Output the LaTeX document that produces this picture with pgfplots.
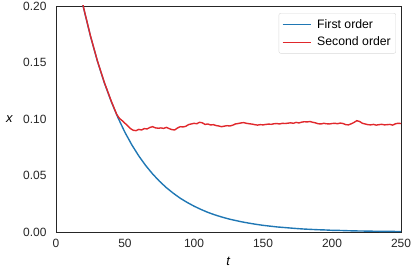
\documentclass[border=0pt]{standalone}
\usepackage{pgfplots}
\pgfplotsset{compat=1.18}
\usepackage{fontspec}
\setmainfont{Liberation Sans}
\definecolor{fblue}{HTML}{1F77B4}
\definecolor{fred}{HTML}{E0282C}
\definecolor{spine}{gray}{0.15}
\begin{document}
\begin{tikzpicture}
\begin{axis}[
  name=ax,
  scale only axis, width=345bp, height=226bp,
  xmin=0, xmax=250, ymin=0, ymax=0.2,
  xtick={0,50,100,150,200,250},
  ytick={0,0.05,0.1,0.15,0.2},
  yticklabel style={xshift=-6bp, /pgf/number format/fixed, /pgf/number format/fixed zerofill, /pgf/number format/precision=2},
  /pgf/number format/assume math mode=true,
  major tick length=0pt,
  axis line style={spine, line width=0.9pt},
  tick label style={font=\fontsize{12}{14}\selectfont, text=black!85},
  xticklabel style={yshift=-3.5bp},
  label style={font=\fontsize{13}{15}\selectfont},
  xlabel={\textit{t}}, ylabel={\textit{x}},
  xlabel style={yshift=-3bp},
  ylabel style={rotate=-90, xshift=-3.5bp},
  legend style={at={(0.9855,0.969)}, anchor=north east, draw=black!15, rounded corners=2pt,
    font=\fontsize{12.3}{14}\selectfont, row sep=3.5pt, column sep=4bp, inner xsep=3pt, inner ysep=4pt},
  legend cell align=left,
  legend image code/.code={\draw[#1, line width=1.4pt] (0bp,0bp) -- (28bp,0bp);},
  clip=true,
]
\addplot[fblue, line width=1.4pt] coordinates {
(0,0.3400)(5,0.2971)(10,0.2595)(15,0.2268)(20,0.1981)(25,0.1731)(30,0.1512)(35,0.1321)(40,0.1155)(45,0.1009)
(50,0.0881)(55,0.0770)(60,0.0673)(65,0.0588)(70,0.0514)(75,0.0449)(80,0.0392)(85,0.0343)(90,0.0299)(95,0.0262)
(100,0.0229)(105,0.0200)(110,0.0174)(115,0.0152)(120,0.0133)(125,0.0116)(130,0.0102)(135,0.0089)(140,0.0078)(145,0.0068)
(150,0.0059)(155,0.0052)(160,0.0045)(165,0.0040)(170,0.0035)(175,0.0030)(180,0.0026)(185,0.0023)(190,0.0020)(195,0.0018)
(200,0.0015)(205,0.0014)(210,0.0012)(215,0.0010)(220,0.0009)(225,0.0008)(230,0.0007)(235,0.0006)(240,0.0005)(245,0.0005)(250,0.0004)
};
\addlegendentry{First order}
\addplot[fred, line width=1.4pt] coordinates {
(0,0.3400)(5,0.2971)(10,0.2595)(15,0.2268)(20,0.1985)(25,0.1735)(30,0.1515)(35,0.1325)(40,0.1160)(44,0.1040)
(46,0.1005)(48,0.0985)(50,0.0962)(52,0.0940)(54,0.0915)(56,0.0900)(58,0.0897)(60,0.0908)(62,0.0903)(64,0.0915)
(66,0.0912)(68,0.0925)(70,0.0932)(72,0.0922)(74,0.0918)(76,0.0921)(78,0.0917)(80,0.0926)(82,0.0915)(84,0.0906)
(86,0.0903)(88,0.0920)(90,0.0932)(92,0.0930)(94,0.0935)(96,0.0950)(98,0.0956)(100,0.0962)(102,0.0958)(104,0.0971)
(106,0.0966)(108,0.0952)(110,0.0956)(112,0.0947)(114,0.0950)(116,0.0942)(118,0.0938)(120,0.0932)(122,0.0937)(124,0.0941)
(126,0.0938)(128,0.0945)(130,0.0956)(132,0.0960)(134,0.0965)(136,0.0968)(138,0.0962)(140,0.0958)(142,0.0955)(144,0.0950)
(146,0.0946)(148,0.0950)(150,0.0948)(152,0.0952)(154,0.0955)(156,0.0953)(158,0.0958)(160,0.0960)(162,0.0956)(164,0.0962)
(166,0.0960)(168,0.0963)(170,0.0966)(172,0.0962)(174,0.0970)(176,0.0965)(178,0.0972)(180,0.0976)(182,0.0974)(184,0.0978)
(186,0.0971)(188,0.0966)(190,0.0958)(192,0.0956)(194,0.0962)(196,0.0958)(198,0.0956)(200,0.0960)(202,0.0962)(204,0.0958)
(206,0.0964)(208,0.0960)(210,0.0950)(212,0.0948)(214,0.0958)(216,0.0970)(218,0.0985)(220,0.0978)(222,0.0962)(224,0.0956)
(226,0.0950)(228,0.0948)(230,0.0952)(232,0.0946)(234,0.0950)(236,0.0953)(238,0.0948)(240,0.0950)(242,0.0952)(244,0.0946)
(246,0.0958)(248,0.0962)(250,0.0960)
};
\addlegendentry{Second order}
\end{axis}
\pgfresetboundingbox
\path[use as bounding box] ([shift={(-56bp,-42bp)}]ax.south west) rectangle ([shift={(14bp,6bp)}]ax.north east);
\end{tikzpicture}
\end{document}
